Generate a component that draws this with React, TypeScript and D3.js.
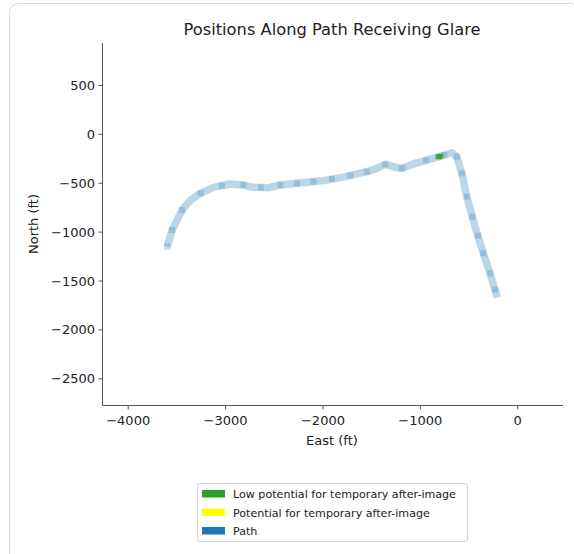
import React from "react";
import * as d3 from "d3";

const pathEast = [-3600, -3549, -3497, -3446, -3361, -3256, -3126, -2951, -2818, -2715, -2561, -2438, -2267, -2010, -1805, -1549, -1446, -1361, -1276, -1190, -1053, -831, -677, -626, -574, -523, -438, -353, -284, -209];
const pathNorth = [-1149, -978, -876, -774, -672, -603, -542, -508, -518, -542, -546, -518, -501, -474, -440, -382, -348, -307, -331, -348, -297, -235, -188, -229, -399, -638, -945, -1217, -1421, -1670];
const glareEast = [-815, -795];
const glareNorth = [-230, -224];
const xTicks = [-4000, -3000, -2000, -1000, 0];
const yTicks = [500, 0, -500, -1000, -1500, -2000, -2500];
const legendLabels = ["Low potential for temporary after-image", "Potential for temporary after-image", "Path"];
const legendColors = ["#2ca02c", "#ffff00", "#1f77b4"];

const W = 574, H = 554;
const FONT = "DejaVu Sans, sans-serif";

export default function App() {
  const x = d3.scaleLinear().domain([-4264, 465]).range([102.5, 563]);
  const y = d3.scaleLinear().domain([934, -2768]).range([43, 405]);
  const pts: [number, number][] = pathEast.map((e, i) => [e, pathNorth[i]]);
  const markers: [number, number][] = [];
  for (let i = 0; i < pts.length - 1; i++) {
    const [x0, y0] = pts[i], [x1, y1] = pts[i + 1];
    const d = Math.hypot(x(x1) - x(x0), y(y1) - y(y0));
    const n = Math.max(1, Math.round(d / 10));
    for (let k = 0; k < n; k++) markers.push([x0 + (x1 - x0) * k / n, y0 + (y1 - y0) * k / n]);
  }
  markers.push(pts[pts.length - 1]);
  const line = d3.line<[number, number]>().x(d => x(d[0])).y(d => y(d[1])).curve(d3.curveLinear);
  const axisColor = "#555";
  return (
    <svg width={W} height={H} style={{ position: "absolute", left: 0, top: 0, background: "#fff" }} fontFamily={FONT}>
      <rect x={9.5} y={3.5} width={570} height={570} rx={9} fill="#fff" stroke="#d8d8d8" />
      <text x={332} y={35} textAnchor="middle" fontSize={16.3} fill="#222">Positions Along Path Receiving Glare</text>
      <path d={line(pts) || ""} fill="none" stroke="#1f77b4" strokeOpacity={0.3} strokeWidth={7.5} strokeLinejoin="round" />
      {markers.map((m, i) => (
        <rect key={i} x={x(m[0]) - 3} y={y(m[1]) - 3} width={6} height={6} fill="#1f77b4" fillOpacity={i % 2 === 0 ? 0.25 : 0} />
      ))}
      {glareEast.map((e, i) => (
        <rect key={"g" + i} x={x(e) - 3} y={y(glareNorth[i]) - 2.5} width={6} height={5} fill="#2ca02c" fillOpacity={0.75} />
      ))}
      <line x1={102.5} x2={102.5} y1={43} y2={405} stroke={axisColor} />
      <line x1={102.5} x2={563} y1={405.5} y2={405.5} stroke={axisColor} />
      {xTicks.map(t => (
        <g key={"x" + t}>
          <line x1={x(t)} x2={x(t)} y1={405.5} y2={409.5} stroke={axisColor} />
          <text x={x(t)} y={425} textAnchor="middle" fontSize={13} fill="#222">{t < 0 ? "\u2212" + Math.abs(t) : t}</text>
        </g>
      ))}
      {yTicks.map(t => (
        <g key={"y" + t}>
          <line x1={98.5} x2={102.5} y1={y(t)} y2={y(t)} stroke={axisColor} />
          <text x={95} y={y(t) + 4.5} textAnchor="end" fontSize={13} fill="#222">{t < 0 ? "\u2212" + Math.abs(t) : t}</text>
        </g>
      ))}
      <text x={332} y={445} textAnchor="middle" fontSize={13} fill="#222">East (ft)</text>
      <text transform="translate(38,224) rotate(-90)" textAnchor="middle" fontSize={13} fill="#222">North (ft)</text>
      <rect x={197.5} y={483.5} width={270} height={58} rx={2} fill="#fff" stroke="#d5d5d5" />
      {legendLabels.map((l, i) => (
        <g key={l}>
          <rect x={202} y={490 + i * 18.5} width={23} height={7.5} fill={legendColors[i]} />
          <text x={233} y={498 + i * 18.5} fontSize={11.1} fill="#222">{l}</text>
        </g>
      ))}
    </svg>
  );
}
